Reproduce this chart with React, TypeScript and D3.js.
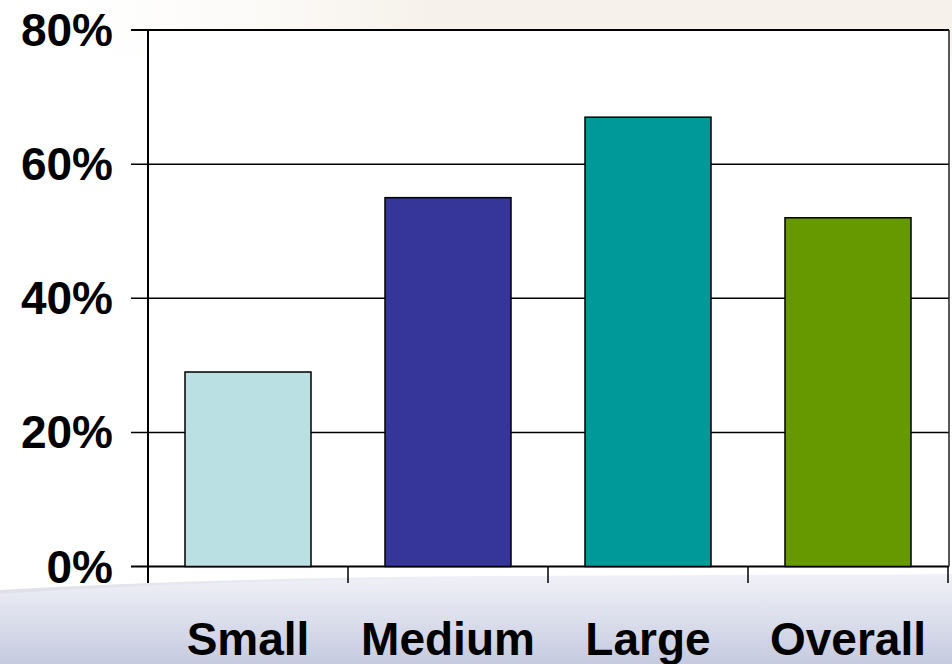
import React from "react";
import * as d3 from "d3";

const categories = ["Small", "Medium", "Large", "Overall"];
const values = [0.29, 0.55, 0.67, 0.52];
const colors = ["#BAE0E3", "#35359A", "#009999", "#669900"];
const yTicks = [0, 0.2, 0.4, 0.6, 0.8];

const W = 952;
const H = 664;
const left = 148;
const right = 948;
const top = 30;
const bottom = 566.5;

export default function App() {
  const x = d3
    .scaleBand<string>()
    .domain(categories)
    .range([left, right])
    .paddingInner(0.37)
    .paddingOuter(0.185);
  const y = d3.scaleLinear().domain([0, 0.8]).range([bottom, top]);
  const fmt = d3.format(".0%");
  const step = x.step();
  const font = "Arial, 'Liberation Sans', Helvetica, sans-serif";

  return (
    <svg
      width={W}
      height={H}
      style={{ position: "absolute", left: 0, top: 0 }}
      fontFamily={font}
    >
      <defs>
        <linearGradient id="bottomGrad" x1="0" y1="0" x2="0" y2="1">
          <stop offset="0" stopColor="#f1f2f8" />
          <stop offset="1" stopColor="#c6cadf" />
        </linearGradient>
        <linearGradient id="topGrad" x1="0" y1="0" x2="1" y2="0">
          <stop offset="0" stopColor="#ffffff" stopOpacity="0" />
          <stop offset="0.45" stopColor="#f6f1ea" stopOpacity="1" />
          <stop offset="1" stopColor="#f6f1ea" stopOpacity="1" />
        </linearGradient>
        <linearGradient id="topFade" x1="0" y1="0" x2="0" y2="1">
          <stop offset="0" stopColor="#ffffff" stopOpacity="0" />
          <stop offset="1" stopColor="#ffffff" stopOpacity="1" />
        </linearGradient>
        <linearGradient id="waveGrad" x1="0" y1="0" x2="1" y2="0">
          <stop offset="0" stopColor="#d4d4da" stopOpacity="0.45" />
          <stop offset="1" stopColor="#d4d4da" stopOpacity="0" />
        </linearGradient>
      </defs>
      <rect x={0} y={0} width={W} height={H} fill="#ffffff" />
      <rect x={0} y={0} width={W} height={top + 40} fill="url(#topGrad)" />
      <rect x={0} y={top} width={W} height={40} fill="url(#topFade)" />
      <path
        d={`M0,590 C120,583 260,578 480,576 L${W},574 L${W},${H} L0,${H} Z`}
        fill="url(#bottomGrad)"
      />
      <path
        d={`M0,590 C120,583 260,578 480,576 L480,578 C260,580 120,586 0,594 Z`}
        fill="url(#waveGrad)"
      />
      {/* plot area */}
      <rect x={left} y={top} width={949 - left} height={bottom - top} fill="#ffffff" />

      {/* gridlines with left tick */}
      {yTicks.map((t) => (
        <line
          key={"g" + t}
          x1={131}
          x2={949}
          y1={y(t)}
          y2={y(t)}
          stroke="#000"
          strokeWidth={t === 0 || t === 0.8 ? 2 : 1.5}
        />
      ))}
      {/* right border */}
      <line x1={949} x2={949} y1={top} y2={bottom} stroke="#222" strokeWidth={1.5} />

      {/* bars */}
      {categories.map((c, i) => (
        <rect
          key={c}
          x={x(c)}
          y={y(values[i])}
          width={x.bandwidth()}
          height={bottom - y(values[i])}
          fill={colors[i]}
          stroke="#000"
          strokeWidth={1.5}
        />
      ))}

      {/* y axis */}
      <line x1={left} x2={left} y1={top} y2={583} stroke="#000" strokeWidth={2} />
      {/* x ticks */}
      {categories.map((c, i) => (
        <line
          key={"xt" + c}
          x1={left + step * (i + 1)}
          x2={left + step * (i + 1)}
          y1={bottom}
          y2={583}
          stroke="#000"
          strokeWidth={1.5}
        />
      ))}

      {/* y labels */}
      {yTicks.map((t) => (
        <text
          key={"yl" + t}
          x={113}
          y={y(t) + 16}
          textAnchor="end"
          fontSize={46}
          fontWeight="bold"
          fill="#000"
        >
          {fmt(t)}
        </text>
      ))}

      {/* x labels */}
      {categories.map((c) => (
        <text
          key={"xl" + c}
          x={(x(c) as number) + x.bandwidth() / 2}
          y={655}
          textAnchor="middle"
          fontSize={46}
          fontWeight="bold"
          fill="#000"
        >
          {c}
        </text>
      ))}
    </svg>
  );
}
